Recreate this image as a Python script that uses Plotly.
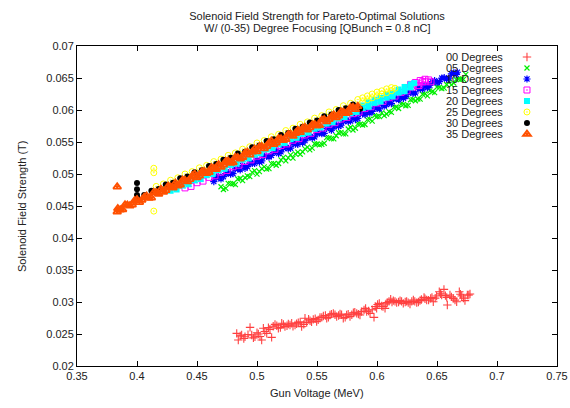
import plotly.graph_objects as go

# ---------------- data ----------------
deg00_v = [0.4831, 0.4844, 0.4872, 0.4900, 0.4942, 0.4956, 0.4983, 0.5011, 0.5039, 0.5053,
           0.5081, 0.5108, 0.5122, 0.5150, 0.5178, 0.5206, 0.5233, 0.5261, 0.5289, 0.5317,
           0.5344, 0.5372, 0.5400, 0.5414, 0.5442, 0.5469, 0.5497, 0.5525, 0.5553, 0.5581,
           0.5608, 0.5636, 0.5664, 0.5692, 0.5719, 0.5747, 0.5775, 0.5803, 0.5831, 0.5858,
           0.5892, 0.5914, 0.5942, 0.5975, 0.5997, 0.6019, 0.6039, 0.6067, 0.6086, 0.6114,
           0.6136, 0.6164, 0.6192, 0.6219, 0.6247, 0.6275, 0.6303, 0.6331, 0.6358, 0.6392,
           0.6414, 0.6447, 0.6469, 0.6497, 0.6519, 0.6539, 0.6558, 0.6581, 0.6586, 0.6608,
           0.6636, 0.6664, 0.6686, 0.6706, 0.6733, 0.6753, 0.6775,
           0.4860, 0.4890, 0.4925, 0.4970, 0.5000, 0.5025, 0.5065, 0.5095, 0.5135, 0.5165,
           0.5195, 0.5220, 0.5250, 0.5275, 0.5300, 0.5330, 0.5360, 0.5390, 0.5430, 0.5455,
           0.5485, 0.5510, 0.5540, 0.5570, 0.5595, 0.5620, 0.5650, 0.5680, 0.5705, 0.5735,
           0.5760, 0.5790, 0.5815, 0.5845, 0.5870, 0.5905, 0.5930, 0.5960, 0.5985, 0.6005,
           0.6050, 0.6075, 0.6100, 0.6125, 0.6150, 0.6180, 0.6205, 0.6235, 0.6260, 0.6290,
           0.6315, 0.6345, 0.6370, 0.6400, 0.6430, 0.6458, 0.6485, 0.6530, 0.6570, 0.6620,
           0.6650, 0.6695, 0.6720, 0.6765]
deg00_s = [0.02510, 0.02406, 0.02484, 0.02458, 0.02604, 0.02484, 0.02458, 0.02500, 0.02406, 0.02589,
           0.02510, 0.02573, 0.02448, 0.02651, 0.02589, 0.02667, 0.02615, 0.02656, 0.02667, 0.02641,
           0.02677, 0.02615, 0.02745, 0.02677, 0.02708, 0.02729, 0.02693, 0.02760, 0.02781, 0.02745,
           0.02797, 0.02823, 0.02771, 0.02813, 0.02745, 0.02797, 0.02771, 0.02833, 0.02823, 0.02797,
           0.02875, 0.02849, 0.02823, 0.02760, 0.02901, 0.02979, 0.02938, 0.02901, 0.02990, 0.03042,
           0.03021, 0.02990, 0.03021, 0.02979, 0.03010, 0.02969, 0.03031, 0.02990, 0.03021, 0.03073,
           0.03031, 0.03057, 0.03005, 0.03094, 0.03161, 0.03109, 0.03198, 0.03073, 0.02953, 0.03109,
           0.03057, 0.03005, 0.03161, 0.03094, 0.03021, 0.03109, 0.03125,
           0.02470, 0.02430, 0.02490, 0.02440, 0.02520, 0.02460, 0.02540, 0.02600, 0.02620, 0.02630,
           0.02600, 0.02650, 0.02630, 0.02640, 0.02620, 0.02660, 0.02690, 0.02650, 0.02730, 0.02690,
           0.02740, 0.02720, 0.02760, 0.02790, 0.02760, 0.02810, 0.02800, 0.02790, 0.02800, 0.02760,
           0.02810, 0.02800, 0.02840, 0.02810, 0.02850, 0.02900, 0.02860, 0.02880, 0.02930, 0.02960,
           0.02930, 0.02970, 0.03010, 0.03000, 0.03010, 0.03000, 0.03010, 0.03000, 0.02990, 0.03010,
           0.03010, 0.03000, 0.03040, 0.03050, 0.03030, 0.03070, 0.03060, 0.03130, 0.03100, 0.03080,
           0.03030, 0.03120, 0.03060, 0.03110]

deg05_v = [0.470, 0.474, 0.478, 0.482, 0.486, 0.490, 0.494, 0.498, 0.502, 0.506,
           0.510, 0.514, 0.518, 0.522, 0.526, 0.530, 0.534, 0.538, 0.542, 0.546,
           0.550, 0.554, 0.558, 0.562, 0.566, 0.570, 0.574, 0.578, 0.582, 0.586,
           0.590, 0.594, 0.598, 0.602, 0.606, 0.610, 0.614, 0.618, 0.622, 0.626,
           0.630, 0.634, 0.638, 0.642, 0.646, 0.650, 0.654, 0.658, 0.662, 0.666,
           0.670, 0.674,
           0.472, 0.476, 0.480, 0.484, 0.488, 0.492, 0.496, 0.500, 0.504, 0.508,
           0.512, 0.516, 0.520, 0.524, 0.528, 0.532, 0.536, 0.540, 0.544, 0.548,
           0.552, 0.556, 0.560, 0.564, 0.568, 0.572, 0.576, 0.580, 0.584, 0.588,
           0.592, 0.596, 0.600, 0.604, 0.608, 0.612, 0.616, 0.620, 0.624, 0.628,
           0.632, 0.636, 0.640, 0.644, 0.648, 0.652, 0.656, 0.660, 0.664, 0.668,
           0.672]
deg05_s = [0.04801, 0.04776, 0.04850, 0.04835, 0.04929, 0.04943, 0.04958, 0.05052, 0.05037, 0.05111,
           0.05085, 0.05160, 0.05164, 0.05259, 0.05253, 0.05247, 0.05342, 0.05346, 0.05421, 0.05405,
           0.05469, 0.05464, 0.05568, 0.05553, 0.05597, 0.05651, 0.05626, 0.05730, 0.05715, 0.05779,
           0.05773, 0.05858, 0.05912, 0.05897, 0.05911, 0.05975, 0.06040, 0.06024, 0.06089, 0.06073,
           0.06167, 0.06172, 0.06246, 0.06221, 0.06285, 0.06359, 0.06334, 0.06398, 0.06393, 0.06477,
           0.06481, 0.06556,
           0.04758, 0.04853, 0.04847, 0.04922, 0.04896, 0.04970, 0.05025, 0.04999, 0.05084, 0.05078,
           0.05162, 0.05137, 0.05221, 0.05206, 0.05300, 0.05314, 0.05309, 0.05393, 0.05378, 0.05472,
           0.05456, 0.05481, 0.05565, 0.05550, 0.05644, 0.05628, 0.05703, 0.05687, 0.05782, 0.05766,
           0.05850, 0.05825, 0.05899, 0.05954, 0.05938, 0.05962, 0.06047, 0.06091, 0.06066, 0.06160,
           0.06144, 0.06169, 0.06253, 0.06298, 0.06272, 0.06356, 0.06341, 0.06435, 0.06420, 0.06484,
           0.06478]

deg10_v = [0.464, 0.468, 0.472, 0.476, 0.480, 0.484, 0.488, 0.492, 0.496, 0.500,
           0.504, 0.508, 0.512, 0.516, 0.520, 0.524, 0.528, 0.532, 0.536, 0.540,
           0.544, 0.548, 0.552, 0.556, 0.560, 0.564, 0.568, 0.572, 0.576, 0.580,
           0.584, 0.588, 0.592, 0.596, 0.600, 0.604, 0.608, 0.612, 0.616, 0.620,
           0.624, 0.628, 0.632, 0.636, 0.640, 0.644, 0.648, 0.652, 0.656, 0.660,
           0.664, 0.667,
           0.466, 0.470, 0.474, 0.478, 0.482, 0.486, 0.490, 0.494, 0.498, 0.502,
           0.506, 0.510, 0.514, 0.518, 0.522, 0.526, 0.530, 0.534, 0.538, 0.542,
           0.546, 0.550, 0.554, 0.558, 0.562, 0.566, 0.570, 0.574, 0.578, 0.582,
           0.586, 0.590, 0.594, 0.598, 0.602, 0.606, 0.610, 0.614, 0.618, 0.622,
           0.626, 0.630, 0.634, 0.638, 0.642, 0.646, 0.650, 0.654, 0.658, 0.662,
           0.666]
deg10_s = [0.04882, 0.04965, 0.04958, 0.05021, 0.05005, 0.05078, 0.05131, 0.05114, 0.05167, 0.05220,
           0.05204, 0.05277, 0.05290, 0.05363, 0.05346, 0.05420, 0.05403, 0.05466, 0.05529, 0.05522,
           0.05586, 0.05579, 0.05642, 0.05635, 0.05728, 0.05732, 0.05745, 0.05818, 0.05821, 0.05894,
           0.05868, 0.05941, 0.05984, 0.05977, 0.06030, 0.06094, 0.06087, 0.06100, 0.06183, 0.06206,
           0.06210, 0.06293, 0.06266, 0.06329, 0.06382, 0.06386, 0.06459, 0.06442, 0.06505, 0.06498,
           0.06582, 0.06590,
           0.04938, 0.04922, 0.05005, 0.04998, 0.05081, 0.05065, 0.05088, 0.05171, 0.05164, 0.05187,
           0.05280, 0.05264, 0.05337, 0.05320, 0.05403, 0.05396, 0.05480, 0.05463, 0.05486, 0.05569,
           0.05562, 0.05636, 0.05629, 0.05712, 0.05685, 0.05768, 0.05762, 0.05845, 0.05828, 0.05851,
           0.05944, 0.05928, 0.05951, 0.06034, 0.06017, 0.06060, 0.06134, 0.06177, 0.06160, 0.06183,
           0.06266, 0.06260, 0.06343, 0.06326, 0.06349, 0.06442, 0.06426, 0.06499, 0.06482, 0.06565,
           0.06558]

deg15_v = [0.440, 0.445, 0.450, 0.455, 0.460, 0.465, 0.470, 0.475, 0.480, 0.485,
           0.490, 0.495, 0.500, 0.505, 0.510, 0.515, 0.520, 0.525, 0.530, 0.535,
           0.540, 0.545, 0.550, 0.555, 0.560, 0.565, 0.570, 0.575, 0.580, 0.585,
           0.590, 0.595, 0.600, 0.605, 0.610, 0.615, 0.620, 0.625, 0.630, 0.635,
           0.640, 0.628, 0.632, 0.636, 0.640, 0.643, 0.645, 0.638, 0.634]
deg15_s = [0.04783, 0.04806, 0.04864, 0.04889, 0.04947, 0.04972, 0.05030, 0.05055, 0.05113, 0.05138,
           0.05196, 0.05221, 0.05279, 0.05304, 0.05362, 0.05387, 0.05445, 0.05470, 0.05528, 0.05553,
           0.05611, 0.05636, 0.05694, 0.05719, 0.05777, 0.05802, 0.05860, 0.05885, 0.05943, 0.05968,
           0.06026, 0.06051, 0.06109, 0.06134, 0.06192, 0.06217, 0.06275, 0.06300, 0.06358, 0.06383,
           0.06441, 0.06400, 0.06430, 0.06460, 0.06480, 0.06470, 0.06440, 0.06440, 0.06380]

deg20_v = [0.428, 0.433, 0.438, 0.443, 0.448, 0.453, 0.458, 0.463, 0.468, 0.473,
           0.478, 0.483, 0.488, 0.493, 0.498, 0.503, 0.508, 0.513, 0.518, 0.523,
           0.528, 0.533, 0.538, 0.543, 0.548, 0.553, 0.558, 0.563, 0.568, 0.573,
           0.578, 0.583, 0.588, 0.593, 0.598, 0.603, 0.608, 0.613, 0.618, 0.623,
           0.628, 0.588, 0.593, 0.598, 0.603, 0.608, 0.613, 0.618, 0.623, 0.628,
           0.631]
deg20_s = [0.04738, 0.04758, 0.04819, 0.04839, 0.04900, 0.04920, 0.04980, 0.05001, 0.05061, 0.05081,
           0.05142, 0.05162, 0.05223, 0.05243, 0.05303, 0.05324, 0.05384, 0.05404, 0.05465, 0.05485,
           0.05545, 0.05566, 0.05626, 0.05647, 0.05707, 0.05727, 0.05788, 0.05808, 0.05868, 0.05889,
           0.05949, 0.05970, 0.06030, 0.06050, 0.06111, 0.06131, 0.06192, 0.06212, 0.06272, 0.06293,
           0.06353, 0.06070, 0.06120, 0.06160, 0.06190, 0.06240, 0.06270, 0.06320, 0.06360, 0.06400,
           0.06420]

deg25_v = [0.416, 0.422, 0.428, 0.434, 0.440, 0.446, 0.452, 0.458, 0.464, 0.470,
           0.476, 0.482, 0.488, 0.494, 0.500, 0.506, 0.512, 0.518, 0.524, 0.530,
           0.536, 0.542, 0.548, 0.554, 0.560, 0.566, 0.572, 0.578, 0.584,
           0.588, 0.588, 0.592, 0.592, 0.596, 0.596, 0.600, 0.600, 0.604, 0.604,
           0.608, 0.608, 0.612, 0.612, 0.615,
           0.414, 0.414, 0.414]
deg25_s = [0.04806, 0.04844, 0.04903, 0.04941, 0.05000, 0.05038, 0.05097, 0.05135, 0.05194, 0.05232,
           0.05291, 0.05329, 0.05388, 0.05426, 0.05485, 0.05523, 0.05582, 0.05620, 0.05679, 0.05717,
           0.05776, 0.05814, 0.05873, 0.05911, 0.05970, 0.06008, 0.06067, 0.06105, 0.06164,
           0.06190, 0.06130, 0.06220, 0.06160, 0.06250, 0.06190, 0.06280, 0.06220, 0.06300, 0.06250,
           0.06330, 0.06270, 0.06350, 0.06300, 0.06340,
           0.05090, 0.05020, 0.04420]

deg30_v = [0.400, 0.406, 0.412, 0.418, 0.424, 0.430, 0.436, 0.442, 0.448, 0.454,
           0.460, 0.466, 0.472, 0.478, 0.484, 0.490, 0.496, 0.502, 0.508, 0.514,
           0.520, 0.526, 0.532, 0.538, 0.544, 0.550, 0.556, 0.562, 0.568, 0.574,
           0.580, 0.586, 0.400, 0.400, 0.400]
deg30_s = [0.04641, 0.04670, 0.04738, 0.04767, 0.04835, 0.04864, 0.04932, 0.04961, 0.05029, 0.05058,
           0.05126, 0.05155, 0.05223, 0.05252, 0.05320, 0.05349, 0.05417, 0.05446, 0.05514, 0.05543,
           0.05611, 0.05640, 0.05708, 0.05737, 0.05805, 0.05834, 0.05902, 0.05931, 0.05999, 0.06028,
           0.06086, 0.06020, 0.04860, 0.04760, 0.04670]

deg35_v = [0.384, 0.388, 0.392, 0.396, 0.400, 0.404, 0.408, 0.412, 0.416, 0.420,
           0.424, 0.428, 0.432, 0.436, 0.440, 0.444, 0.448, 0.452, 0.456, 0.460,
           0.464, 0.468, 0.472, 0.476, 0.480, 0.484, 0.488, 0.492, 0.496, 0.500,
           0.504, 0.508, 0.512, 0.516, 0.520, 0.524, 0.528, 0.532, 0.536, 0.540,
           0.544, 0.548, 0.552, 0.556, 0.560, 0.564, 0.568, 0.572, 0.576, 0.580,
           0.584, 0.3835, 0.3835,
           0.386, 0.390, 0.394, 0.398, 0.402, 0.406, 0.410, 0.414, 0.418, 0.422,
           0.426, 0.430, 0.434, 0.438, 0.442, 0.446, 0.450, 0.454, 0.458, 0.462,
           0.466, 0.470, 0.474, 0.478, 0.482, 0.486, 0.490, 0.494, 0.498, 0.502,
           0.506, 0.510, 0.514, 0.518, 0.522, 0.526, 0.530, 0.534, 0.538, 0.542,
           0.546, 0.550, 0.554, 0.558, 0.562, 0.566, 0.570, 0.574, 0.578, 0.582]
deg35_s = [0.04462, 0.04444, 0.04517, 0.04519, 0.04601, 0.04594, 0.04656, 0.04628, 0.04710, 0.04763,
           0.04745, 0.04797, 0.04860, 0.04832, 0.04904, 0.04917, 0.04999, 0.04971, 0.05043, 0.05026,
           0.05088, 0.05150, 0.05143, 0.05205, 0.05177, 0.05260, 0.05262, 0.05344, 0.05346, 0.05349,
           0.05431, 0.05433, 0.05516, 0.05488, 0.05550, 0.05543, 0.05625, 0.05637, 0.05649, 0.05732,
           0.05724, 0.05776, 0.05759, 0.05851, 0.05853, 0.05926, 0.05908, 0.05970, 0.05962, 0.06045,
           0.06057, 0.04800, 0.04410,
           0.04440, 0.04520, 0.04503, 0.04585, 0.04557, 0.04640, 0.04622, 0.04714, 0.04686, 0.04719,
           0.04811, 0.04783, 0.04816, 0.04908, 0.04880, 0.04973, 0.04945, 0.05037, 0.05009, 0.05102,
           0.05074, 0.05106, 0.05199, 0.05171, 0.05263, 0.05236, 0.05328, 0.05300, 0.05392, 0.05425,
           0.05397, 0.05489, 0.05462, 0.05554, 0.05526, 0.05619, 0.05591, 0.05683, 0.05715, 0.05688,
           0.05770, 0.05752, 0.05845, 0.05817, 0.05899, 0.05882, 0.05974, 0.05946, 0.06038, 0.06011]

series_labels = ["00 Degrees", "05 Degrees", "10 Degrees", "15 Degrees",
                 "20 Degrees", "25 Degrees", "30 Degrees", "35 Degrees"]
title_line1 = "Solenoid Field Strength for Pareto-Optimal Solutions"
title_line2 = "W/ (0-35) Degree Focusing [QBunch = 0.8 nC]"
x_title = "Gun Voltage (MeV)"
y_title = "Solenoid Field Strength (T)"
x_tick_vals = [0.35, 0.4, 0.45, 0.5, 0.55, 0.6, 0.65, 0.7, 0.75]
x_tick_text = ["0.35", "0.4", "0.45", "0.5", "0.55", "0.6", "0.65", "0.7", "0.75"]
y_tick_vals = [0.02, 0.025, 0.03, 0.035, 0.04, 0.045, 0.05, 0.055, 0.06, 0.065, 0.07]
y_tick_text = ["0.02", "0.025", "0.03", "0.035", "0.04", "0.045", "0.05", "0.055", "0.06", "0.065", "0.07"]

# ---------------- styles ----------------
data_sets = [(deg00_v, deg00_s), (deg05_v, deg05_s), (deg10_v, deg10_s), (deg15_v, deg15_s),
             (deg20_v, deg20_s), (deg25_v, deg25_s), (deg30_v, deg30_s), (deg35_v, deg35_s)]
styles = [
    dict(color="#ff0000", symbol="cross-thin", size=6, lw=1.1, opacity=0.75),
    dict(color="#00ee00", symbol="x-thin", size=5, lw=1.2, opacity=1.0),
    dict(color="#0000ff", symbol="asterisk-open", size=6, lw=1.2, opacity=1.0),
    dict(color="#ff00ff", symbol="square-open-dot", size=6, lw=1.0, opacity=1.0),
    dict(color="#00ffff", symbol="square", size=6, lw=0, opacity=1.0),
    dict(color="#ffff00", symbol="circle-open-dot", size=6, lw=1.0, opacity=1.0),
    dict(color="#000000", symbol="circle", size=6, lw=0, opacity=1.0),
    dict(color="#ff5000", symbol="triangle-up-open-dot", size=7, lw=1.8, opacity=1.0),
]

FONT = "Liberation Sans, Arial, Helvetica, sans-serif"
TXT = "#222222"

FIG_W, FIG_H = 570, 408

fig = go.Figure()
for i, ((xv, yv), st) in enumerate(zip(data_sets, styles)):
    lg = "legend" if i == 0 else f"legend{i+1}"
    fig.add_trace(go.Scatter(
        x=xv, y=yv, mode="markers", name="",
        legend=lg, showlegend=True, opacity=st["opacity"],
        marker=dict(symbol=st["symbol"], size=st["size"], color=st["color"],
                    line=dict(width=st["lw"], color=st["color"])),
        hovertemplate=series_labels[i] + "<br>%{x}, %{y}<extra></extra>",
    ))

row_y = [0.9656, 0.9313, 0.8969, 0.8625, 0.8281, 0.7938, 0.7594, 0.7250]
layout_legends = {}
annotations = []
for i in range(8):
    lg = "legend" if i == 0 else f"legend{i+1}"
    layout_legends[lg] = dict(x=0.8958, xanchor="left", y=row_y[i], yanchor="middle",
                              xref="paper", yref="paper",
                              bgcolor="rgba(0,0,0,0)", borderwidth=0,
                              font=dict(family=FONT, size=11, color=TXT))
    annotations.append(dict(text=series_labels[i], x=0.8917, y=row_y[i], xref="paper", yref="paper",
                            xanchor="right", yanchor="middle", showarrow=False,
                            font=dict(family=FONT, size=11, color=TXT)))

# second title line
annotations.append(dict(text=title_line2, x=0.5, y=1.05625, xref="paper", yref="paper",
                        xanchor="center", yanchor="middle", showarrow=False,
                        font=dict(family=FONT, size=11, color=TXT)))
# axis titles
annotations.append(dict(text=x_title, x=0.5, y=-0.084, xref="paper", yref="paper",
                        xanchor="center", yanchor="middle", showarrow=False,
                        font=dict(family=FONT, size=11, color=TXT)))
annotations.append(dict(text=y_title, x=-0.1146, y=0.5, xref="paper", yref="paper",
                        xanchor="center", yanchor="middle", showarrow=False, textangle=-90,
                        font=dict(family=FONT, size=11, color=TXT)))

axis_common = dict(showline=True, linecolor="black", linewidth=1, mirror="allticks",
                   ticks="inside", ticklen=5, tickcolor="black", showgrid=False, zeroline=False,
                   automargin=False, ticklabeloverflow="allow",
                   tickfont=dict(family=FONT, size=11, color=TXT))

fig.update_layout(
    width=FIG_W, height=FIG_H,
    margin=dict(l=77, r=13, t=46, b=42, autoexpand=False),
    paper_bgcolor="white", plot_bgcolor="white",
    font=dict(family=FONT, size=11, color=TXT),
    title=dict(text=title_line1,
               x=0.5, xref="paper", xanchor="center", y=1 - 16 / FIG_H, yref="container", yanchor="middle",
               font=dict(family=FONT, size=11, color=TXT)),
    xaxis=dict(range=[0.35, 0.75], tickvals=x_tick_vals, ticktext=x_tick_text, **axis_common),
    yaxis=dict(range=[0.02, 0.07], tickvals=y_tick_vals, ticktext=y_tick_text, **axis_common),
    annotations=annotations,
    **layout_legends,
)

# remove the default 8px page margin so the 570x408 figure fills the window exactly
fig.write_html("out.html", default_width=f"{FIG_W}px", default_height=f"{FIG_H}px",
               config={"displayModeBar": False},
               post_script="document.body.style.margin='0';document.body.style.overflow='hidden';")
